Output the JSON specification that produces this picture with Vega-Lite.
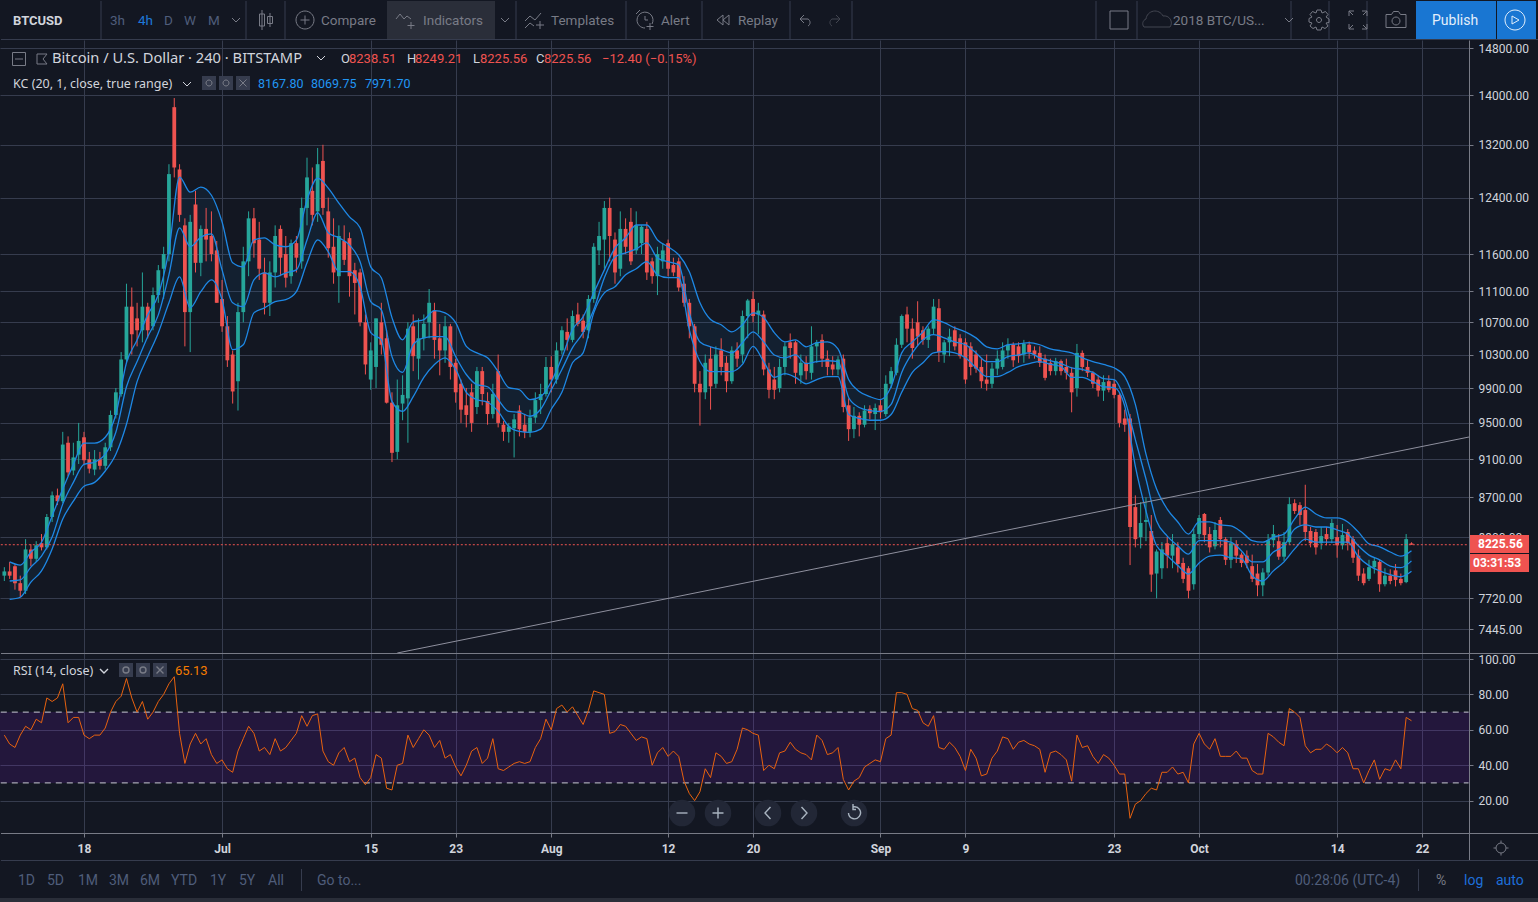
{
"$schema":"https://vega.github.io/schema/vega-lite/v6.json",
"padding":{"left":-2,"top":0,"right":0,"bottom":0},"background":"#131722","bounds":"flush","spacing":0,
"config":{"view":{"stroke":null},"font":"Roboto"},
"resolve":{"scale":{"color":"independent","shape":"independent"}},
"datasets":{
"candles":[
{"t":"2018-06-10 12:00","o":7930,"h":8010,"l":7880,"c":7970,"r":57},
{"t":"2018-06-11 00:00","o":7970,"h":8060,"l":7900,"c":7930,"r":52},
{"t":"2018-06-11 12:00","o":8020,"h":8040,"l":7800,"c":7860,"r":50},
{"t":"2018-06-12 00:00","o":7860,"h":7930,"l":7730,"c":7790,"r":57},
{"t":"2018-06-12 12:00","o":7790,"h":8280,"l":7760,"c":8180,"r":62},
{"t":"2018-06-13 00:00","o":8180,"h":8230,"l":8020,"c":8090,"r":60},
{"t":"2018-06-13 12:00","o":8090,"h":8260,"l":8060,"c":8220,"r":66},
{"t":"2018-06-14 00:00","o":8240,"h":8330,"l":8170,"c":8200,"r":64},
{"t":"2018-06-14 12:00","o":8200,"h":8530,"l":8180,"c":8500,"r":78},
{"t":"2018-06-15 00:00","o":8500,"h":8760,"l":8450,"c":8720,"r":76},
{"t":"2018-06-15 12:00","o":8720,"h":8790,"l":8620,"c":8660,"r":78},
{"t":"2018-06-16 00:00","o":8660,"h":9400,"l":8640,"c":9260,"r":86},
{"t":"2018-06-16 12:00","o":9280,"h":9350,"l":8920,"c":8960,"r":64},
{"t":"2018-06-17 00:00","o":8980,"h":9280,"l":8930,"c":9120,"r":67},
{"t":"2018-06-17 12:00","o":9150,"h":9500,"l":9050,"c":9300,"r":67},
{"t":"2018-06-18 00:00","o":9340,"h":9400,"l":9040,"c":9090,"r":57},
{"t":"2018-06-18 12:00","o":9100,"h":9180,"l":8950,"c":9000,"r":55},
{"t":"2018-06-19 00:00","o":8990,"h":9200,"l":8930,"c":9100,"r":57},
{"t":"2018-06-19 12:00","o":9100,"h":9180,"l":8990,"c":9030,"r":57},
{"t":"2018-06-20 00:00","o":9030,"h":9280,"l":8990,"c":9230,"r":61},
{"t":"2018-06-20 12:00","o":9230,"h":9640,"l":9190,"c":9590,"r":70},
{"t":"2018-06-21 00:00","o":9590,"h":9900,"l":9550,"c":9850,"r":76},
{"t":"2018-06-21 12:00","o":9830,"h":10330,"l":9800,"c":10240,"r":79},
{"t":"2018-06-22 00:00","o":10240,"h":11200,"l":10200,"c":10900,"r":89},
{"t":"2018-06-22 12:00","o":10900,"h":11150,"l":10300,"c":10550,"r":78},
{"t":"2018-06-23 00:00","o":10750,"h":10950,"l":10400,"c":10600,"r":70},
{"t":"2018-06-23 12:00","o":10600,"h":11350,"l":10450,"c":10900,"r":76},
{"t":"2018-06-24 00:00","o":10900,"h":10950,"l":10500,"c":10600,"r":66},
{"t":"2018-06-24 12:00","o":10650,"h":11150,"l":10600,"c":11050,"r":70},
{"t":"2018-06-25 00:00","o":11050,"h":11450,"l":10950,"c":11380,"r":76},
{"t":"2018-06-25 12:00","o":11400,"h":11700,"l":11000,"c":11600,"r":80},
{"t":"2018-06-26 00:00","o":11600,"h":12900,"l":11500,"c":12750,"r":86},
{"t":"2018-06-26 12:00","o":13800,"h":13950,"l":12700,"c":12850,"r":90},
{"t":"2018-06-27 00:00","o":12820,"h":12900,"l":12050,"c":12150,"r":58},
{"t":"2018-06-27 12:00","o":12000,"h":12100,"l":10400,"c":10830,"r":41},
{"t":"2018-06-28 00:00","o":10830,"h":12150,"l":10330,"c":12050,"r":52},
{"t":"2018-06-28 12:00","o":12300,"h":12500,"l":11350,"c":11480,"r":58},
{"t":"2018-06-29 00:00","o":11480,"h":12000,"l":11300,"c":11950,"r":52},
{"t":"2018-06-29 12:00","o":11950,"h":12250,"l":11500,"c":11800,"r":55},
{"t":"2018-06-30 00:00","o":11850,"h":12200,"l":11500,"c":11600,"r":46},
{"t":"2018-06-30 12:00","o":11650,"h":11780,"l":10950,"c":10950,"r":41},
{"t":"2018-07-01 00:00","o":11000,"h":11250,"l":10580,"c":10650,"r":43},
{"t":"2018-07-01 12:00","o":10650,"h":10780,"l":10150,"c":10230,"r":38},
{"t":"2018-07-02 00:00","o":10300,"h":10350,"l":9720,"c":9860,"r":36},
{"t":"2018-07-02 12:00","o":9980,"h":10950,"l":9640,"c":10830,"r":48},
{"t":"2018-07-03 00:00","o":10830,"h":11700,"l":10700,"c":11500,"r":55},
{"t":"2018-07-03 12:00","o":11500,"h":12200,"l":11300,"c":12100,"r":62},
{"t":"2018-07-04 00:00","o":12100,"h":12250,"l":11550,"c":11750,"r":58},
{"t":"2018-07-04 12:00","o":11800,"h":12050,"l":11250,"c":11400,"r":48},
{"t":"2018-07-05 00:00","o":11350,"h":11550,"l":10800,"c":10950,"r":50},
{"t":"2018-07-05 12:00","o":10950,"h":11500,"l":10780,"c":11350,"r":46},
{"t":"2018-07-06 00:00","o":11350,"h":12000,"l":11150,"c":11850,"r":55},
{"t":"2018-07-06 12:00","o":11950,"h":12000,"l":11300,"c":11550,"r":48},
{"t":"2018-07-07 00:00","o":11600,"h":11850,"l":11150,"c":11280,"r":50},
{"t":"2018-07-07 12:00","o":11300,"h":11800,"l":11200,"c":11750,"r":54},
{"t":"2018-07-08 00:00","o":11750,"h":11850,"l":11350,"c":11550,"r":58},
{"t":"2018-07-08 12:00","o":11500,"h":12400,"l":11400,"c":12250,"r":68},
{"t":"2018-07-09 00:00","o":12250,"h":13000,"l":12000,"c":12700,"r":62},
{"t":"2018-07-09 12:00","o":12500,"h":12850,"l":12000,"c":12150,"r":68},
{"t":"2018-07-10 00:00","o":12200,"h":13150,"l":12050,"c":12900,"r":69},
{"t":"2018-07-10 12:00","o":12950,"h":13200,"l":12150,"c":12250,"r":48},
{"t":"2018-07-11 00:00","o":12200,"h":12400,"l":11550,"c":11680,"r":42},
{"t":"2018-07-11 12:00","o":11700,"h":12100,"l":11200,"c":11350,"r":40},
{"t":"2018-07-12 00:00","o":11300,"h":12000,"l":10950,"c":11850,"r":47},
{"t":"2018-07-12 12:00","o":11780,"h":12000,"l":11450,"c":11520,"r":50},
{"t":"2018-07-13 00:00","o":11820,"h":11900,"l":11030,"c":11300,"r":42},
{"t":"2018-07-13 12:00","o":11380,"h":11480,"l":10800,"c":11210,"r":44},
{"t":"2018-07-14 00:00","o":11350,"h":11400,"l":10650,"c":10700,"r":33},
{"t":"2018-07-14 12:00","o":10700,"h":10800,"l":10060,"c":10180,"r":29},
{"t":"2018-07-15 00:00","o":10000,"h":10450,"l":9880,"c":10350,"r":33},
{"t":"2018-07-15 12:00","o":10150,"h":10750,"l":9900,"c":10750,"r":46},
{"t":"2018-07-16 00:00","o":10700,"h":10950,"l":10300,"c":10420,"r":44},
{"t":"2018-07-16 12:00","o":10500,"h":10600,"l":9720,"c":9730,"r":27},
{"t":"2018-07-17 00:00","o":9730,"h":9850,"l":9070,"c":9170,"r":26},
{"t":"2018-07-17 12:00","o":9180,"h":10000,"l":9100,"c":9700,"r":40},
{"t":"2018-07-18 00:00","o":9720,"h":10050,"l":9530,"c":9820,"r":41},
{"t":"2018-07-18 12:00","o":9780,"h":10700,"l":9280,"c":10620,"r":57},
{"t":"2018-07-19 00:00","o":10650,"h":10800,"l":10100,"c":10280,"r":50},
{"t":"2018-07-19 12:00","o":10250,"h":10750,"l":10000,"c":10500,"r":55},
{"t":"2018-07-20 00:00","o":10500,"h":10800,"l":10350,"c":10680,"r":60},
{"t":"2018-07-20 12:00","o":10700,"h":11130,"l":10500,"c":10950,"r":57},
{"t":"2018-07-21 00:00","o":10850,"h":10950,"l":10250,"c":10480,"r":50},
{"t":"2018-07-21 12:00","o":10500,"h":10680,"l":10050,"c":10350,"r":54},
{"t":"2018-07-22 00:00","o":10350,"h":10780,"l":10200,"c":10650,"r":44},
{"t":"2018-07-22 12:00","o":10650,"h":10680,"l":10000,"c":10150,"r":46},
{"t":"2018-07-23 00:00","o":10200,"h":10250,"l":9730,"c":9850,"r":39},
{"t":"2018-07-23 12:00","o":9950,"h":10000,"l":9500,"c":9650,"r":34},
{"t":"2018-07-24 00:00","o":9700,"h":9900,"l":9450,"c":9590,"r":40},
{"t":"2018-07-24 12:00","o":9850,"h":9950,"l":9400,"c":9500,"r":48},
{"t":"2018-07-25 00:00","o":9680,"h":10150,"l":9600,"c":10100,"r":50},
{"t":"2018-07-25 12:00","o":10100,"h":10150,"l":9700,"c":9830,"r":41},
{"t":"2018-07-26 00:00","o":9750,"h":9850,"l":9480,"c":9600,"r":44},
{"t":"2018-07-26 12:00","o":9600,"h":9950,"l":9550,"c":9830,"r":55},
{"t":"2018-07-27 00:00","o":10100,"h":10300,"l":9450,"c":9500,"r":38},
{"t":"2018-07-27 12:00","o":9480,"h":9520,"l":9300,"c":9400,"r":37},
{"t":"2018-07-28 00:00","o":9400,"h":9500,"l":9280,"c":9460,"r":39},
{"t":"2018-07-28 12:00","o":9440,"h":9600,"l":9120,"c":9540,"r":41},
{"t":"2018-07-29 00:00","o":9640,"h":9700,"l":9350,"c":9430,"r":42},
{"t":"2018-07-29 12:00","o":9480,"h":9600,"l":9330,"c":9400,"r":41},
{"t":"2018-07-30 00:00","o":9400,"h":9650,"l":9340,"c":9560,"r":42},
{"t":"2018-07-30 12:00","o":9560,"h":9850,"l":9500,"c":9760,"r":50},
{"t":"2018-07-31 00:00","o":9760,"h":9950,"l":9600,"c":9830,"r":55},
{"t":"2018-07-31 12:00","o":9830,"h":10270,"l":9800,"c":10150,"r":66},
{"t":"2018-08-01 00:00","o":10150,"h":10280,"l":9850,"c":10000,"r":60},
{"t":"2018-08-01 12:00","o":10000,"h":10450,"l":9950,"c":10350,"r":72},
{"t":"2018-08-02 00:00","o":10350,"h":10650,"l":10300,"c":10600,"r":74},
{"t":"2018-08-02 12:00","o":10580,"h":10750,"l":10350,"c":10480,"r":70},
{"t":"2018-08-03 00:00","o":10480,"h":10850,"l":10450,"c":10780,"r":73},
{"t":"2018-08-03 12:00","o":10800,"h":10950,"l":10650,"c":10680,"r":68},
{"t":"2018-08-04 00:00","o":10720,"h":10800,"l":10500,"c":10580,"r":63},
{"t":"2018-08-04 12:00","o":10600,"h":11050,"l":10500,"c":11000,"r":71},
{"t":"2018-08-05 00:00","o":11000,"h":11750,"l":10950,"c":11700,"r":82},
{"t":"2018-08-05 12:00","o":11650,"h":12050,"l":11450,"c":11850,"r":81},
{"t":"2018-08-06 00:00","o":11800,"h":12350,"l":11400,"c":12250,"r":80},
{"t":"2018-08-06 12:00","o":12250,"h":12400,"l":11500,"c":11850,"r":58},
{"t":"2018-08-07 00:00","o":11800,"h":11900,"l":11200,"c":11350,"r":59},
{"t":"2018-08-07 12:00","o":11400,"h":12200,"l":11300,"c":11950,"r":63},
{"t":"2018-08-08 00:00","o":11950,"h":12100,"l":11600,"c":11700,"r":62},
{"t":"2018-08-08 12:00","o":12050,"h":12250,"l":11450,"c":11500,"r":58},
{"t":"2018-08-09 00:00","o":11650,"h":12200,"l":11600,"c":12000,"r":54},
{"t":"2018-08-09 12:00","o":11750,"h":12000,"l":11600,"c":11980,"r":56},
{"t":"2018-08-10 00:00","o":11950,"h":12050,"l":11250,"c":11350,"r":55},
{"t":"2018-08-10 12:00","o":11500,"h":11550,"l":11200,"c":11300,"r":40},
{"t":"2018-08-11 00:00","o":11300,"h":11700,"l":11050,"c":11600,"r":47},
{"t":"2018-08-11 12:00","o":11500,"h":11750,"l":11400,"c":11650,"r":50},
{"t":"2018-08-12 00:00","o":11750,"h":11800,"l":11300,"c":11400,"r":45},
{"t":"2018-08-12 12:00","o":11450,"h":11550,"l":11300,"c":11350,"r":48},
{"t":"2018-08-13 00:00","o":11500,"h":11550,"l":11100,"c":11150,"r":45},
{"t":"2018-08-13 12:00","o":11200,"h":11300,"l":10900,"c":10950,"r":31},
{"t":"2018-08-14 00:00","o":10950,"h":11000,"l":10500,"c":10650,"r":24},
{"t":"2018-08-14 12:00","o":10650,"h":10680,"l":9850,"c":9950,"r":20},
{"t":"2018-08-15 00:00","o":9950,"h":10100,"l":9470,"c":9850,"r":25},
{"t":"2018-08-15 12:00","o":9850,"h":10300,"l":9770,"c":10200,"r":38},
{"t":"2018-08-16 00:00","o":10250,"h":10400,"l":9650,"c":9920,"r":33},
{"t":"2018-08-16 12:00","o":9950,"h":10400,"l":9900,"c":10300,"r":47},
{"t":"2018-08-17 00:00","o":10350,"h":10500,"l":10050,"c":10150,"r":45},
{"t":"2018-08-17 12:00","o":10200,"h":10280,"l":9850,"c":9980,"r":41},
{"t":"2018-08-18 00:00","o":9980,"h":10400,"l":9950,"c":10350,"r":42},
{"t":"2018-08-18 12:00","o":10350,"h":10450,"l":10150,"c":10250,"r":49},
{"t":"2018-08-19 00:00","o":10300,"h":10850,"l":10200,"c":10780,"r":61},
{"t":"2018-08-19 12:00","o":10780,"h":11000,"l":10500,"c":10980,"r":60},
{"t":"2018-08-20 00:00","o":11000,"h":11100,"l":10700,"c":10780,"r":58},
{"t":"2018-08-20 12:00","o":10800,"h":10950,"l":10550,"c":10850,"r":57},
{"t":"2018-08-21 00:00","o":10800,"h":10850,"l":10050,"c":10120,"r":37},
{"t":"2018-08-21 12:00","o":10120,"h":10200,"l":9780,"c":9880,"r":40},
{"t":"2018-08-22 00:00","o":10000,"h":10150,"l":9770,"c":9880,"r":38},
{"t":"2018-08-22 12:00","o":9900,"h":10250,"l":9850,"c":10150,"r":47},
{"t":"2018-08-23 00:00","o":10150,"h":10450,"l":10050,"c":10400,"r":48},
{"t":"2018-08-23 12:00","o":10450,"h":10560,"l":10250,"c":10380,"r":53},
{"t":"2018-08-24 00:00","o":10450,"h":10470,"l":9950,"c":10080,"r":49},
{"t":"2018-08-24 12:00","o":10050,"h":10300,"l":9950,"c":10200,"r":47},
{"t":"2018-08-25 00:00","o":10200,"h":10280,"l":10000,"c":10100,"r":46},
{"t":"2018-08-25 12:00","o":10080,"h":10650,"l":10000,"c":10400,"r":43},
{"t":"2018-08-26 00:00","o":10400,"h":10480,"l":10200,"c":10450,"r":57},
{"t":"2018-08-26 12:00","o":10480,"h":10550,"l":10150,"c":10250,"r":54},
{"t":"2018-08-27 00:00","o":10250,"h":10350,"l":10050,"c":10150,"r":46},
{"t":"2018-08-27 12:00","o":10180,"h":10280,"l":10050,"c":10120,"r":47},
{"t":"2018-08-28 00:00","o":10120,"h":10280,"l":10050,"c":10240,"r":50},
{"t":"2018-08-28 12:00","o":10250,"h":10300,"l":9620,"c":9680,"r":32},
{"t":"2018-08-29 00:00","o":9700,"h":9780,"l":9300,"c":9430,"r":26},
{"t":"2018-08-29 12:00","o":9430,"h":9680,"l":9330,"c":9580,"r":31},
{"t":"2018-08-30 00:00","o":9580,"h":9620,"l":9350,"c":9480,"r":33},
{"t":"2018-08-30 12:00","o":9480,"h":9700,"l":9450,"c":9640,"r":39},
{"t":"2018-08-31 00:00","o":9660,"h":9700,"l":9540,"c":9610,"r":41},
{"t":"2018-08-31 12:00","o":9600,"h":9720,"l":9420,"c":9670,"r":43},
{"t":"2018-09-01 00:00","o":9700,"h":9760,"l":9550,"c":9620,"r":42},
{"t":"2018-09-01 12:00","o":9600,"h":10050,"l":9570,"c":9950,"r":55},
{"t":"2018-09-02 00:00","o":9950,"h":10150,"l":9900,"c":10100,"r":57},
{"t":"2018-09-02 12:00","o":10080,"h":10500,"l":10050,"c":10420,"r":81},
{"t":"2018-09-03 00:00","o":10420,"h":10800,"l":10380,"c":10780,"r":81},
{"t":"2018-09-03 12:00","o":10800,"h":10900,"l":10450,"c":10620,"r":80},
{"t":"2018-09-04 00:00","o":10620,"h":10750,"l":10250,"c":10380,"r":72},
{"t":"2018-09-04 12:00","o":10700,"h":10970,"l":10400,"c":10520,"r":71},
{"t":"2018-09-05 00:00","o":10600,"h":10650,"l":10420,"c":10480,"r":64},
{"t":"2018-09-05 12:00","o":10480,"h":10650,"l":10380,"c":10620,"r":62},
{"t":"2018-09-06 00:00","o":10620,"h":11000,"l":10550,"c":10900,"r":68},
{"t":"2018-09-06 12:00","o":10880,"h":11000,"l":10210,"c":10330,"r":50},
{"t":"2018-09-07 00:00","o":10300,"h":10480,"l":10200,"c":10450,"r":49},
{"t":"2018-09-07 12:00","o":10450,"h":10620,"l":10280,"c":10520,"r":53},
{"t":"2018-09-08 00:00","o":10600,"h":10650,"l":10350,"c":10400,"r":50},
{"t":"2018-09-08 12:00","o":10500,"h":10550,"l":10250,"c":10280,"r":45},
{"t":"2018-09-09 00:00","o":10450,"h":10500,"l":9950,"c":10000,"r":37},
{"t":"2018-09-09 12:00","o":10400,"h":10450,"l":10050,"c":10150,"r":49},
{"t":"2018-09-10 00:00","o":10300,"h":10350,"l":10080,"c":10130,"r":44},
{"t":"2018-09-10 12:00","o":10150,"h":10250,"l":9900,"c":9980,"r":34},
{"t":"2018-09-11 00:00","o":10000,"h":10300,"l":9870,"c":9950,"r":35},
{"t":"2018-09-11 12:00","o":9950,"h":10200,"l":9900,"c":10130,"r":44},
{"t":"2018-09-12 00:00","o":10130,"h":10350,"l":10050,"c":10250,"r":48},
{"t":"2018-09-12 12:00","o":10150,"h":10450,"l":10120,"c":10350,"r":56},
{"t":"2018-09-13 00:00","o":10350,"h":10500,"l":10250,"c":10420,"r":55},
{"t":"2018-09-13 12:00","o":10420,"h":10450,"l":10150,"c":10230,"r":49},
{"t":"2018-09-14 00:00","o":10400,"h":10450,"l":10200,"c":10280,"r":53},
{"t":"2018-09-14 12:00","o":10300,"h":10480,"l":10200,"c":10430,"r":54},
{"t":"2018-09-15 00:00","o":10420,"h":10460,"l":10250,"c":10330,"r":52},
{"t":"2018-09-15 12:00","o":10350,"h":10400,"l":10250,"c":10300,"r":51},
{"t":"2018-09-16 00:00","o":10320,"h":10400,"l":10150,"c":10200,"r":49},
{"t":"2018-09-16 12:00","o":10250,"h":10300,"l":9990,"c":10020,"r":36},
{"t":"2018-09-17 00:00","o":10200,"h":10250,"l":10050,"c":10100,"r":47},
{"t":"2018-09-17 12:00","o":10100,"h":10260,"l":10050,"c":10220,"r":48},
{"t":"2018-09-18 00:00","o":10220,"h":10240,"l":10050,"c":10100,"r":46},
{"t":"2018-09-18 12:00","o":10150,"h":10250,"l":10000,"c":10080,"r":43},
{"t":"2018-09-19 00:00","o":10080,"h":10150,"l":9620,"c":9850,"r":31},
{"t":"2018-09-19 12:00","o":9900,"h":10430,"l":9800,"c":10320,"r":57},
{"t":"2018-09-20 00:00","o":10320,"h":10350,"l":10100,"c":10150,"r":50},
{"t":"2018-09-20 12:00","o":10150,"h":10230,"l":10030,"c":10080,"r":51},
{"t":"2018-09-21 00:00","o":10080,"h":10100,"l":9900,"c":9950,"r":45},
{"t":"2018-09-21 12:00","o":10000,"h":10050,"l":9800,"c":9870,"r":41},
{"t":"2018-09-22 00:00","o":9870,"h":10050,"l":9750,"c":9970,"r":46},
{"t":"2018-09-22 12:00","o":9980,"h":10050,"l":9850,"c":9880,"r":44},
{"t":"2018-09-23 00:00","o":9950,"h":10000,"l":9780,"c":9820,"r":40},
{"t":"2018-09-23 12:00","o":9820,"h":9850,"l":9450,"c":9500,"r":35},
{"t":"2018-09-24 00:00","o":9550,"h":9650,"l":9400,"c":9480,"r":35},
{"t":"2018-09-24 12:00","o":9550,"h":9600,"l":8030,"c":8400,"r":10},
{"t":"2018-09-25 00:00","o":8600,"h":8720,"l":8200,"c":8280,"r":18},
{"t":"2018-09-25 12:00","o":8300,"h":8650,"l":8190,"c":8440,"r":20},
{"t":"2018-09-26 00:00","o":8450,"h":8700,"l":8260,"c":8470,"r":24},
{"t":"2018-09-26 12:00","o":8360,"h":8520,"l":7780,"c":7940,"r":27},
{"t":"2018-09-27 00:00","o":7950,"h":8180,"l":7720,"c":8160,"r":26},
{"t":"2018-09-27 12:00","o":8000,"h":8250,"l":7900,"c":8180,"r":36},
{"t":"2018-09-28 00:00","o":8240,"h":8300,"l":8000,"c":8120,"r":36},
{"t":"2018-09-28 12:00","o":8120,"h":8330,"l":8000,"c":8230,"r":39},
{"t":"2018-09-29 00:00","o":8200,"h":8250,"l":7960,"c":8040,"r":35},
{"t":"2018-09-29 12:00","o":8050,"h":8100,"l":7860,"c":7900,"r":36},
{"t":"2018-09-30 00:00","o":8000,"h":8020,"l":7720,"c":7790,"r":30},
{"t":"2018-09-30 12:00","o":7850,"h":8380,"l":7800,"c":8330,"r":52},
{"t":"2018-10-01 00:00","o":8330,"h":8520,"l":8280,"c":8490,"r":58},
{"t":"2018-10-01 12:00","o":8530,"h":8540,"l":8250,"c":8320,"r":52},
{"t":"2018-10-02 00:00","o":8330,"h":8400,"l":8150,"c":8200,"r":49},
{"t":"2018-10-02 12:00","o":8210,"h":8450,"l":8180,"c":8370,"r":55},
{"t":"2018-10-03 00:00","o":8470,"h":8500,"l":8200,"c":8280,"r":45},
{"t":"2018-10-03 12:00","o":8280,"h":8300,"l":8030,"c":8080,"r":45},
{"t":"2018-10-04 00:00","o":8080,"h":8300,"l":8000,"c":8240,"r":45},
{"t":"2018-10-04 12:00","o":8230,"h":8270,"l":8050,"c":8120,"r":48},
{"t":"2018-10-05 00:00","o":8130,"h":8150,"l":8010,"c":8050,"r":44},
{"t":"2018-10-05 12:00","o":8120,"h":8170,"l":8000,"c":8050,"r":44},
{"t":"2018-10-06 00:00","o":8020,"h":8130,"l":7870,"c":7900,"r":37},
{"t":"2018-10-06 12:00","o":7950,"h":8040,"l":7740,"c":7840,"r":35},
{"t":"2018-10-07 00:00","o":7840,"h":8000,"l":7740,"c":7960,"r":35},
{"t":"2018-10-07 12:00","o":7960,"h":8330,"l":7930,"c":8270,"r":58},
{"t":"2018-10-08 00:00","o":8270,"h":8420,"l":8200,"c":8330,"r":56},
{"t":"2018-10-08 12:00","o":8260,"h":8330,"l":8080,"c":8110,"r":53},
{"t":"2018-10-09 00:00","o":8110,"h":8350,"l":8070,"c":8250,"r":51},
{"t":"2018-10-09 12:00","o":8250,"h":8700,"l":8230,"c":8630,"r":72},
{"t":"2018-10-10 00:00","o":8640,"h":8680,"l":8530,"c":8560,"r":70},
{"t":"2018-10-10 12:00","o":8620,"h":8650,"l":8420,"c":8520,"r":67},
{"t":"2018-10-11 00:00","o":8570,"h":8830,"l":8260,"c":8350,"r":51},
{"t":"2018-10-11 12:00","o":8360,"h":8400,"l":8200,"c":8240,"r":47},
{"t":"2018-10-12 00:00","o":8350,"h":8380,"l":8130,"c":8200,"r":49},
{"t":"2018-10-12 12:00","o":8240,"h":8400,"l":8180,"c":8310,"r":49},
{"t":"2018-10-13 00:00","o":8330,"h":8400,"l":8220,"c":8280,"r":52},
{"t":"2018-10-13 12:00","o":8280,"h":8480,"l":8240,"c":8440,"r":50},
{"t":"2018-10-14 00:00","o":8300,"h":8420,"l":8100,"c":8220,"r":47},
{"t":"2018-10-14 12:00","o":8220,"h":8430,"l":8180,"c":8320,"r":50},
{"t":"2018-10-15 00:00","o":8350,"h":8380,"l":8170,"c":8240,"r":47},
{"t":"2018-10-15 12:00","o":8280,"h":8310,"l":8050,"c":8100,"r":38},
{"t":"2018-10-16 00:00","o":8120,"h":8180,"l":7880,"c":7930,"r":38},
{"t":"2018-10-16 12:00","o":7950,"h":8000,"l":7840,"c":7860,"r":30},
{"t":"2018-10-17 00:00","o":7900,"h":8080,"l":7880,"c":8010,"r":37},
{"t":"2018-10-17 12:00","o":8010,"h":8100,"l":7950,"c":8070,"r":43},
{"t":"2018-10-18 00:00","o":8060,"h":8080,"l":7780,"c":7850,"r":32},
{"t":"2018-10-18 12:00","o":7850,"h":8000,"l":7830,"c":7930,"r":38},
{"t":"2018-10-19 00:00","o":7930,"h":7990,"l":7850,"c":7880,"r":37},
{"t":"2018-10-19 12:00","o":7980,"h":8040,"l":7830,"c":7890,"r":43},
{"t":"2018-10-20 00:00","o":7900,"h":7950,"l":7840,"c":7860,"r":38},
{"t":"2018-10-20 12:00","o":7870,"h":8330,"l":7860,"c":8280,"r":67},
{"t":"2018-10-21 00:00","o":8238.51,"h":8249.21,"l":8225.56,"c":8225.56,"r":65.13}
],
"kc":[
{"t":"2018-06-11 00:00","u":8060,"m":7880,"d":7710},
{"t":"2018-06-12 00:00","u":8030,"m":7890,"d":7730},
{"t":"2018-06-13 00:00","u":8155,"m":8010,"d":7870},
{"t":"2018-06-14 00:00","u":8250,"m":8115,"d":7975},
{"t":"2018-06-15 00:00","u":8510,"m":8300,"d":8185},
{"t":"2018-06-16 00:00","u":8785,"m":8630,"d":8480},
{"t":"2018-06-17 00:00","u":9045,"m":8855,"d":8660},
{"t":"2018-06-18 00:00","u":9275,"m":9045,"d":8815},
{"t":"2018-06-19 00:00","u":9275,"m":9070,"d":8855},
{"t":"2018-06-20 00:00","u":9340,"m":9155,"d":8975},
{"t":"2018-06-21 00:00","u":9595,"m":9395,"d":9155},
{"t":"2018-06-22 00:00","u":10200,"m":9915,"d":9485},
{"t":"2018-06-23 00:00","u":10480,"m":10215,"d":9975},
{"t":"2018-06-24 00:00","u":10795,"m":10520,"d":10275},
{"t":"2018-06-25 00:00","u":11055,"m":10795,"d":10570},
{"t":"2018-06-26 00:00","u":11655,"m":11320,"d":10950},
{"t":"2018-06-27 00:00","u":12705,"m":11965,"d":11290},
{"t":"2018-06-28 00:00","u":12480,"m":11700,"d":10885},
{"t":"2018-06-29 00:00","u":12555,"m":11835,"d":11095},
{"t":"2018-06-30 00:00","u":12435,"m":11880,"d":11250},
{"t":"2018-07-01 00:00","u":12050,"m":11385,"d":10990},
{"t":"2018-07-02 00:00","u":11480,"m":10950,"d":10360},
{"t":"2018-07-03 00:00","u":11425,"m":10900,"d":10420},
{"t":"2018-07-04 00:00","u":11795,"m":11250,"d":10820},
{"t":"2018-07-05 00:00","u":11825,"m":11345,"d":10885},
{"t":"2018-07-06 00:00","u":11725,"m":11290,"d":10965},
{"t":"2018-07-07 00:00","u":11700,"m":11345,"d":10990},
{"t":"2018-07-08 00:00","u":11795,"m":11385,"d":11095},
{"t":"2018-07-09 00:00","u":12365,"m":11795,"d":11480},
{"t":"2018-07-10 00:00","u":12690,"m":12180,"d":11795},
{"t":"2018-07-11 00:00","u":12540,"m":11895,"d":11630},
{"t":"2018-07-12 00:00","u":12320,"m":11825,"d":11360},
{"t":"2018-07-13 00:00","u":12120,"m":11725,"d":11360},
{"t":"2018-07-14 00:00","u":11965,"m":11495,"d":11160},
{"t":"2018-07-15 00:00","u":11425,"m":10965,"d":10570},
{"t":"2018-07-16 00:00","u":11280,"m":10860,"d":10480},
{"t":"2018-07-17 00:00","u":10760,"m":10275,"d":9745},
{"t":"2018-07-18 00:00","u":10480,"m":10085,"d":9630},
{"t":"2018-07-19 00:00","u":10705,"m":10420,"d":9800},
{"t":"2018-07-20 00:00","u":10735,"m":10505,"d":10025},
{"t":"2018-07-21 00:00","u":10850,"m":10520,"d":10180},
{"t":"2018-07-22 00:00","u":10820,"m":10520,"d":10260},
{"t":"2018-07-23 00:00","u":10695,"m":10275,"d":10120},
{"t":"2018-07-24 00:00","u":10400,"m":10060,"d":9850},
{"t":"2018-07-25 00:00","u":10320,"m":9940,"d":9765},
{"t":"2018-07-26 00:00","u":10260,"m":9915,"d":9735},
{"t":"2018-07-27 00:00","u":10095,"m":9765,"d":9630},
{"t":"2018-07-28 00:00","u":9905,"m":9630,"d":9460},
{"t":"2018-07-29 00:00","u":9880,"m":9620,"d":9405},
{"t":"2018-07-30 00:00","u":9765,"m":9575,"d":9395},
{"t":"2018-07-31 00:00","u":9800,"m":9655,"d":9430},
{"t":"2018-08-01 00:00","u":9975,"m":9880,"d":9655},
{"t":"2018-08-02 00:00","u":10260,"m":10120,"d":9850},
{"t":"2018-08-03 00:00","u":10610,"m":10385,"d":10200},
{"t":"2018-08-04 00:00","u":10770,"m":10570,"d":10320},
{"t":"2018-08-05 00:00","u":11080,"m":10860,"d":10820},
{"t":"2018-08-06 00:00","u":11385,"m":11280,"d":11080},
{"t":"2018-08-07 00:00","u":11685,"m":11560,"d":11160},
{"t":"2018-08-08 00:00","u":11825,"m":11615,"d":11320},
{"t":"2018-08-09 00:00","u":12005,"m":11670,"d":11400},
{"t":"2018-08-10 00:00","u":12005,"m":11755,"d":11495},
{"t":"2018-08-11 00:00","u":11795,"m":11545,"d":11320},
{"t":"2018-08-12 00:00","u":11700,"m":11495,"d":11280},
{"t":"2018-08-13 00:00","u":11590,"m":11455,"d":11280},
{"t":"2018-08-14 00:00","u":11360,"m":10820,"d":10605},
{"t":"2018-08-15 00:00","u":10950,"m":10455,"d":10215},
{"t":"2018-08-16 00:00","u":10735,"m":10395,"d":10095},
{"t":"2018-08-17 00:00","u":10670,"m":10360,"d":10095},
{"t":"2018-08-18 00:00","u":10580,"m":10320,"d":10095},
{"t":"2018-08-19 00:00","u":10670,"m":10445,"d":10180},
{"t":"2018-08-20 00:00","u":10820,"m":10580,"d":10400},
{"t":"2018-08-21 00:00","u":10760,"m":10455,"d":10215},
{"t":"2018-08-22 00:00","u":10570,"m":10295,"d":10025},
{"t":"2018-08-23 00:00","u":10455,"m":10260,"d":10070},
{"t":"2018-08-24 00:00","u":10480,"m":10295,"d":10025},
{"t":"2018-08-25 00:00","u":10395,"m":10190,"d":9950},
{"t":"2018-08-26 00:00","u":10445,"m":10215,"d":10000},
{"t":"2018-08-27 00:00","u":10455,"m":10225,"d":10035},
{"t":"2018-08-28 00:00","u":10370,"m":10215,"d":10035},
{"t":"2018-08-29 00:00","u":10000,"m":9790,"d":9595},
{"t":"2018-08-30 00:00","u":9860,"m":9675,"d":9550},
{"t":"2018-08-31 00:00","u":9800,"m":9640,"d":9530},
{"t":"2018-09-01 00:00","u":9765,"m":9630,"d":9530},
{"t":"2018-09-02 00:00","u":9915,"m":9710,"d":9595},
{"t":"2018-09-03 00:00","u":10320,"m":10085,"d":9850},
{"t":"2018-09-04 00:00","u":10455,"m":10320,"d":10085},
{"t":"2018-09-05 00:00","u":10580,"m":10480,"d":10200},
{"t":"2018-09-06 00:00","u":10735,"m":10545,"d":10320},
{"t":"2018-09-07 00:00","u":10695,"m":10505,"d":10335},
{"t":"2018-09-08 00:00","u":10630,"m":10455,"d":10320},
{"t":"2018-09-09 00:00","u":10580,"m":10420,"d":10260},
{"t":"2018-09-10 00:00","u":10505,"m":10320,"d":10140},
{"t":"2018-09-11 00:00","u":10395,"m":10215,"d":10035},
{"t":"2018-09-12 00:00","u":10370,"m":10215,"d":10035},
{"t":"2018-09-13 00:00","u":10420,"m":10275,"d":10085},
{"t":"2018-09-14 00:00","u":10430,"m":10295,"d":10155},
{"t":"2018-09-15 00:00","u":10445,"m":10320,"d":10190},
{"t":"2018-09-16 00:00","u":10420,"m":10260,"d":10215},
{"t":"2018-09-17 00:00","u":10370,"m":10225,"d":10180},
{"t":"2018-09-18 00:00","u":10345,"m":10190,"d":10155},
{"t":"2018-09-19 00:00","u":10320,"m":10140,"d":10025},
{"t":"2018-09-20 00:00","u":10260,"m":10120,"d":10025},
{"t":"2018-09-21 00:00","u":10215,"m":10085,"d":9975},
{"t":"2018-09-22 00:00","u":10180,"m":10010,"d":9915},
{"t":"2018-09-23 00:00","u":10140,"m":10000,"d":9905},
{"t":"2018-09-24 00:00","u":10035,"m":9765,"d":9690},
{"t":"2018-09-25 00:00","u":9710,"m":9315,"d":9025},
{"t":"2018-09-26 00:00","u":9155,"m":8890,"d":8560},
{"t":"2018-09-27 00:00","u":8785,"m":8460,"d":8215},
{"t":"2018-09-28 00:00","u":8580,"m":8310,"d":8120},
{"t":"2018-09-29 00:00","u":8450,"m":8215,"d":8025},
{"t":"2018-09-30 00:00","u":8330,"m":8135,"d":7945},
{"t":"2018-10-01 00:00","u":8450,"m":8265,"d":8050},
{"t":"2018-10-02 00:00","u":8450,"m":8265,"d":8115},
{"t":"2018-10-03 00:00","u":8420,"m":8265,"d":8125},
{"t":"2018-10-04 00:00","u":8410,"m":8250,"d":8100},
{"t":"2018-10-05 00:00","u":8350,"m":8165,"d":8090},
{"t":"2018-10-06 00:00","u":8265,"m":8060,"d":7930},
{"t":"2018-10-07 00:00","u":8250,"m":8060,"d":7880},
{"t":"2018-10-08 00:00","u":8300,"m":8155,"d":7975},
{"t":"2018-10-09 00:00","u":8330,"m":8215,"d":8060},
{"t":"2018-10-10 00:00","u":8480,"m":8380,"d":8185},
{"t":"2018-10-11 00:00","u":8600,"m":8420,"d":8280},
{"t":"2018-10-12 00:00","u":8530,"m":8400,"d":8250},
{"t":"2018-10-13 00:00","u":8490,"m":8400,"d":8250},
{"t":"2018-10-14 00:00","u":8490,"m":8370,"d":8250},
{"t":"2018-10-15 00:00","u":8450,"m":8330,"d":8250},
{"t":"2018-10-16 00:00","u":8350,"m":8215,"d":8110},
{"t":"2018-10-17 00:00","u":8235,"m":8125,"d":8025},
{"t":"2018-10-18 00:00","u":8205,"m":8080,"d":7975},
{"t":"2018-10-19 00:00","u":8155,"m":8020,"d":7940},
{"t":"2018-10-20 00:00","u":8115,"m":8005,"d":7920},
{"t":"2018-10-21 00:00","u":8167.8,"m":8069.75,"d":7971.7}
]
},
"vconcat":[
{"width":1538,"height":40,
"encoding":{
"x":{"field":"at","type":"quantitative","scale":{"domain":[0,1538],"nice":false,"zero":false},"axis":null},
"y":{"field":"row","type":"quantitative","scale":{"domain":[40,0],"nice":false,"zero":false},"axis":null},
"color":{"field":"tone","type":"nominal","scale":{"domain":["light","dim","tf","blue","panel","line","brand","white","faint"],"range":["#d1d4dc","#787b86","#4f5d7a","#1e78d8","#2a2e39","#363c4e","#1976d2","#e3effb","#434651"]},"legend":null}},
"layer":[
{"data":{"values":[{"at":387,"to":495,"row":1,"end":39,"tone":"panel"},{"at":1416,"to":1496,"row":1,"end":39,"tone":"brand"},{"at":1497,"to":1536,"row":1,"end":39,"tone":"brand"}]},
"mark":{"type":"rect"},"encoding":{"x2":{"field":"to"},"y2":{"field":"end"}}},
{"data":{"values":[{"at":101,"row":1,"end":39,"tone":"line"},{"at":246,"row":1,"end":39,"tone":"line"},{"at":285,"row":1,"end":39,"tone":"line"},{"at":516,"row":1,"end":39,"tone":"line"},{"at":626,"row":1,"end":39,"tone":"line"},{"at":702,"row":1,"end":39,"tone":"line"},{"at":790,"row":1,"end":39,"tone":"line"},{"at":852,"row":1,"end":39,"tone":"line"},{"at":1096,"row":1,"end":39,"tone":"line"},{"at":1137,"row":1,"end":39,"tone":"line"},{"at":1291,"row":1,"end":39,"tone":"line"},{"at":1329,"row":1,"end":39,"tone":"line"},{"at":1367,"row":1,"end":39,"tone":"line"}]},
"mark":{"type":"rule","strokeWidth":1},"encoding":{"y2":{"field":"end"}}},
{"data":{"values":[{"at":1,"to":1538,"row":39.5,"tone":"line"}]},"mark":{"type":"rule","strokeWidth":1},"encoding":{"x2":{"field":"to"}}},
{"data":{"values":[{"at":13,"row":20.5,"label":"BTCUSD","tone":"light"}]},"mark":{"type":"text","align":"left","baseline":"middle","fontSize":13,"fontWeight":"bold"},"encoding":{"text":{"field":"label"}}},
{"data":{"values":[
{"at":110,"row":20.5,"label":"3h","tone":"tf"},{"at":138,"row":20.5,"label":"4h","tone":"blue"},{"at":164,"row":20.5,"label":"D","tone":"tf"},{"at":184,"row":20.5,"label":"W","tone":"tf"},{"at":208,"row":20.5,"label":"M","tone":"tf"},
{"at":321,"row":20.5,"label":"Compare","tone":"dim"},{"at":423,"row":20.5,"label":"Indicators","tone":"dim"},{"at":551,"row":20.5,"label":"Templates","tone":"dim"},{"at":661,"row":20.5,"label":"Alert","tone":"dim"},{"at":738,"row":20.5,"label":"Replay","tone":"dim"},{"at":1173,"row":20.5,"label":"2018 BTC/US...","tone":"dim"}]},
"mark":{"type":"text","align":"left","baseline":"middle","fontSize":13.5},"encoding":{"text":{"field":"label"}}},
{"data":{"values":[{"at":1432,"row":20.5,"label":"Publish","tone":"white"}]},"mark":{"type":"text","align":"left","baseline":"middle","fontSize":14},"encoding":{"text":{"field":"label"}}},
{"data":{"values":[
{"at":236,"row":20,"icon":"chev","tone":"dim"},{"at":266,"row":20,"icon":"candle","tone":"dim"},{"at":305,"row":20,"icon":"compare","tone":"dim"},{"at":406,"row":20,"icon":"indicators","tone":"dim"},{"at":505,"row":20,"icon":"chev","tone":"dim"},{"at":535,"row":20,"icon":"templates","tone":"dim"},{"at":645,"row":20,"icon":"alert","tone":"dim"},{"at":723,"row":20,"icon":"replay","tone":"dim"},{"at":806,"row":20,"icon":"undo","tone":"dim"},{"at":834,"row":20,"icon":"redo","tone":"faint"},{"at":1119,"row":20,"icon":"square","tone":"dim"},{"at":1157,"row":20,"icon":"cloud","tone":"faint"},{"at":1289,"row":20,"icon":"chev","tone":"dim"},{"at":1319,"row":20,"icon":"gear","tone":"dim"},{"at":1358,"row":20,"icon":"full","tone":"dim"},{"at":1396,"row":20,"icon":"camera","tone":"dim"},{"at":1515,"row":20,"icon":"play","tone":"white"}]},
"mark":{"type":"point","filled":false,"size":400,"opacity":1,"strokeWidth":1},
"encoding":{"shape":{"field":"icon","type":"nominal","legend":null,"scale":{
"domain":["chev","candle","compare","indicators","templates","alert","replay","undo","redo","square","cloud","gear","full","camera","play"],
"range":["M -0.4 -0.2 L 0 0.2 L 0.4 -0.2",
"M -0.4 -1 V 1 M 0.4 -0.7 V 0.7 M -0.65 -0.6 H -0.15 V 0.6 H -0.65 Z M 0.15 -0.35 H 0.65 V 0.35 H 0.15 Z",
"M -0.9 0 A 0.9 0.9 0 1 1 0.9 0 A 0.9 0.9 0 1 1 -0.9 0 M 0 -0.45 V 0.45 M -0.45 0 H 0.45",
"M -1 -0.1 L -0.6 -0.6 L -0.2 -0.1 L 0.1 -0.4 L 0.5 -0.1 M 0.5 0.2 V 0.9 M 0.15 0.55 H 0.85",
"M -1 0.1 L -0.5 -0.4 L 0 0 L 0.6 -0.7 M -1 0.8 L -0.5 0.3 L -0.1 0.6 M 0.5 0.1 V 0.9 M 0.1 0.5 H 0.9",
"M -0.8 0 A 0.8 0.8 0 1 1 0.7 0.4 M -0.8 0 A 0.8 0.8 0 0 0 0 0.8 M 0.5 0.3 V 1 M 0.15 0.65 H 0.85 M -0.9 -0.6 L -0.5 -1 M 0 -0.4 V 0 H 0.3",
"M 0 -0.5 L -0.6 0 L 0 0.5 Z M 0.6 -0.5 L 0 0 L 0.6 0.5 Z",
"M -0.6 -0.1 L -0.2 -0.5 M -0.6 -0.1 L -0.2 0.3 M -0.6 -0.1 H 0.2 A 0.4 0.4 0 0 1 0.2 0.6",
"M 0.6 -0.1 L 0.2 -0.5 M 0.6 -0.1 L 0.2 0.3 M 0.6 -0.1 H -0.2 A 0.4 0.4 0 0 0 -0.2 0.6",
"M -0.9 -0.9 H 0.9 V 0.9 H -0.9 Z",
"M -1.3 0.7 A 0.5 0.5 0 0 1 -1.1 -0.1 A 0.9 0.9 0 0 1 0.6 -0.4 A 0.7 0.7 0 0 1 1.3 0.7 Z",
"M -0.2 -1 H 0.2 L 0.3 -0.7 L 0.65 -0.85 L 0.9 -0.55 L 0.7 -0.3 L 1 -0.1 V 0.25 L 0.7 0.3 L 0.9 0.6 L 0.6 0.85 L 0.3 0.7 L 0.2 1 H -0.2 L -0.3 0.7 L -0.6 0.85 L -0.9 0.6 L -0.7 0.3 L -1 0.2 V -0.15 L -0.7 -0.3 L -0.9 -0.55 L -0.65 -0.85 L -0.3 -0.7 Z M -0.25 0 A 0.25 0.25 0 1 1 0.25 0 A 0.25 0.25 0 1 1 -0.25 0",
"M -0.9 -0.4 V -0.9 H -0.4 M 0.4 -0.9 H 0.9 V -0.4 M 0.9 0.4 V 0.9 H 0.4 M -0.4 0.9 H -0.9 V 0.4 M -0.9 -0.9 L -0.5 -0.5 M 0.9 -0.9 L 0.5 -0.5 M 0.9 0.9 L 0.5 0.5 M -0.9 0.9 L -0.5 0.5",
"M -1 -0.55 H -0.45 L -0.25 -0.85 H 0.25 L 0.45 -0.55 H 1 V 0.75 H -1 Z M -0.4 0.1 A 0.4 0.4 0 1 1 0.4 0.1 A 0.4 0.4 0 1 1 -0.4 0.1",
"M -1 0 A 1 1 0 1 1 1 0 A 1 1 0 1 1 -1 0 M -0.3 -0.4 L 0.4 0 L -0.3 0.4 Z"]}}}}
]},
{"width":1469,"height":613,
"resolve":{"scale":{"x":"independent","y":"independent"}},
"layer":[
{"encoding":{"x":{"field":"t","type":"temporal","title":null,"scale":{"padding":0,"domain":[{"year":2018,"month":6,"date":10,"hours":2,"minutes":11},{"year":2018,"month":10,"date":26,"hours":10}]},
"axis":{"values":[{"year":2018,"month":6,"date":18},{"year":2018,"month":7,"date":1},{"year":2018,"month":7,"date":15},{"year":2018,"month":7,"date":23},{"year":2018,"month":8,"date":1},{"year":2018,"month":8,"date":12},{"year":2018,"month":8,"date":20},{"year":2018,"month":9,"date":1},{"year":2018,"month":9,"date":9},{"year":2018,"month":9,"date":23},{"year":2018,"month":10,"date":1},{"year":2018,"month":10,"date":14},{"year":2018,"month":10,"date":22}],"labels":false,"ticks":false,"domain":false,"grid":true,"gridColor":"#363c4e","gridWidth":1,"title":null}}},
"layer":[
{"data":{"name":"kc"},"mark":{"type":"area","interpolate":"monotone","color":"#2196f3","opacity":0.07},
"encoding":{"y":{"field":"u","type":"quantitative","title":null,"scale":{"type":"log","domain":[7237,14941],"nice":false,"zero":false},
"axis":{"orient":"right","values":[14800,14000,13200,12400,11600,11100,10700,10300,9900,9500,9100,8700,8300,7720,7445],"format":".2f","grid":true,"gridColor":"#363c4e","domain":true,"domainColor":"#787b86","ticks":true,"tickColor":"#787b86","tickSize":4,"labelColor":"#d1d4dc","labelFont":"Roboto","labelFontSize":12,"labelPadding":5,"title":null}},"y2":{"field":"d"}}},
{"data":{"name":"candles"},"mark":{"type":"rule","strokeWidth":1},
"encoding":{"y":{"field":"l","type":"quantitative","title":null,"scale":{"type":"log","domain":[7237,14941],"nice":false,"zero":false}},"y2":{"field":"h"},
"color":{"condition":{"test":"datum.c>=datum.o","value":"#26a69a"},"value":"#ef5350"}}},
{"data":{"name":"candles"},"mark":{"type":"bar","size":3.8},
"encoding":{"y":{"field":"o","type":"quantitative","title":null,"scale":{"type":"log","domain":[7237,14941],"nice":false,"zero":false}},"y2":{"field":"c"},
"color":{"condition":{"test":"datum.c>=datum.o","value":"#26a69a"},"value":"#ef5350"}}},
{"data":{"name":"kc"},"mark":{"type":"line","interpolate":"monotone","color":"#1e88e5","strokeWidth":1.3},
"encoding":{"y":{"field":"u","type":"quantitative","title":null,"scale":{"type":"log","domain":[7237,14941],"nice":false,"zero":false}}}},
{"data":{"name":"kc"},"mark":{"type":"line","interpolate":"monotone","color":"#1e88e5","strokeWidth":1.3},
"encoding":{"y":{"field":"m","type":"quantitative","title":null,"scale":{"type":"log","domain":[7237,14941],"nice":false,"zero":false}}}},
{"data":{"name":"kc"},"mark":{"type":"line","interpolate":"monotone","color":"#1e88e5","strokeWidth":1.3},
"encoding":{"y":{"field":"d","type":"quantitative","title":null,"scale":{"type":"log","domain":[7237,14941],"nice":false,"zero":false}}}},
{"data":{"values":[{"t":"2018-07-17 12:00","price":7237},{"t":"2018-10-26 10:00","price":9343}]},"mark":{"type":"line","color":"#8f909e","strokeWidth":1},
"encoding":{"y":{"field":"price","type":"quantitative","title":null,"scale":{"type":"log","domain":[7237,14941],"nice":false,"zero":false}}}},
{"data":{"values":[{"t":"2018-06-10 04:00","price":8225.56},{"t":"2018-10-26 09:00","price":8225.56}]},"mark":{"type":"line","color":"#ef5350","strokeWidth":1,"strokeDash":[2,2]},
"encoding":{"y":{"field":"price","type":"quantitative","title":null,"scale":{"type":"log","domain":[7237,14941],"nice":false,"zero":false}}}}
]},
{"encoding":{
"x":{"field":"at","type":"quantitative","scale":{"domain":[0,1469],"nice":false,"zero":false},"axis":null},
"y":{"field":"row","type":"quantitative","scale":{"domain":[653,40],"nice":false,"zero":false},"axis":null},
"color":{"field":"tone","type":"nominal","scale":{"domain":["light","dim","blue","red","white","box"],"range":["#d1d4dc","#787b86","#2196f3","#ef5350","#ffffff","#363c4e"]},"legend":null}},
"layer":[
{"data":{"values":[{"at":1470,"to":1529,"row":535,"end":553,"tone":"red"},{"at":1470,"to":1529,"row":554,"end":572,"tone":"red"}]},"mark":{"type":"rect"},"encoding":{"x2":{"field":"to"},"y2":{"field":"end"}}},
{"data":{"values":[{"at":1478,"row":544,"label":"8225.56","tone":"white"},{"at":1473,"row":563,"label":"03:31:53","tone":"white"}]},"mark":{"type":"text","align":"left","baseline":"middle","fontSize":12,"fontWeight":"bold"},"encoding":{"text":{"field":"label"}}},
{"data":{"values":[{"at":52,"row":58.5,"label":"Bitcoin / U.S. Dollar · 240 · BITSTAMP","tone":"light"}]},"mark":{"type":"text","align":"left","baseline":"middle","font":"Noto Sans","fontSize":14.7},"encoding":{"text":{"field":"label"}}},
{"data":{"values":[
{"at":341,"row":59,"label":"O","tone":"light"},{"at":349,"row":59,"label":"8238.51","tone":"red"},{"at":407,"row":59,"label":"H","tone":"light"},{"at":415,"row":59,"label":"8249.21","tone":"red"},{"at":473,"row":59,"label":"L","tone":"light"},{"at":480,"row":59,"label":"8225.56","tone":"red"},{"at":536,"row":59,"label":"C","tone":"light"},{"at":544,"row":59,"label":"8225.56","tone":"red"},{"at":602,"row":59,"label":"−12.40 (−0.15%)","tone":"red"}]},
"mark":{"type":"text","align":"left","baseline":"middle","fontSize":13},"encoding":{"text":{"field":"label"}}},
{"data":{"values":[{"at":13,"row":84,"label":"KC (20, 1, close, true range)","tone":"light"}]},"mark":{"type":"text","align":"left","baseline":"middle","font":"Noto Sans","fontSize":12.5},"encoding":{"text":{"field":"label"}}},
{"data":{"values":[{"at":258,"row":84,"label":"8167.80","tone":"blue"},{"at":311,"row":84,"label":"8069.75","tone":"blue"},{"at":365,"row":84,"label":"7971.70","tone":"blue"}]},"mark":{"type":"text","align":"left","baseline":"middle","fontSize":12.5},"encoding":{"text":{"field":"label"}}},
{"data":{"values":[{"at":209,"row":83,"tone":"box"},{"at":226,"row":83,"tone":"box"},{"at":243,"row":83,"tone":"box"}]},"mark":{"type":"point","filled":true,"shape":"square","size":196,"opacity":1}},
{"data":{"values":[{"at":19,"row":59,"icon":"fold","tone":"dim"},{"at":42,"row":59,"icon":"flag","tone":"dim"},{"at":321,"row":58,"icon":"chev","tone":"light"},{"at":187,"row":84,"icon":"chev","tone":"light"},{"at":209,"row":83,"icon":"eye","tone":"dim"},{"at":226,"row":83,"icon":"eye","tone":"dim"},{"at":243,"row":83,"icon":"cross","tone":"dim"}]},
"mark":{"type":"point","filled":false,"size":400,"opacity":1,"strokeWidth":1},
"encoding":{"shape":{"field":"icon","type":"nominal","legend":null,"scale":{"domain":["fold","flag","chev","eye","cross"],"range":["M -0.65 -0.65 H 0.65 V 0.65 H -0.65 Z M -0.4 0 H 0.4","M -0.5 -0.5 H 0.5 L 0.1 0 L 0.5 0.5 H -0.5 Z","M -0.4 -0.2 L 0 0.2 L 0.4 -0.2","M -0.3 0 A 0.3 0.3 0 1 1 0.3 0 A 0.3 0.3 0 1 1 -0.3 0","M -0.35 -0.35 L 0.35 0.35 M 0.35 -0.35 L -0.35 0.35"]}}}}
]}
]},
{"width":1469,"height":180,
"resolve":{"scale":{"x":"independent","y":"independent"}},
"layer":[
{"layer":[
{"data":{"values":[{"low":30,"high":70}]},"mark":{"type":"rect","color":"#9915ff","opacity":0.12},
"encoding":{"y":{"field":"low","type":"quantitative","title":null,"scale":{"domain":[1.7,103.4],"nice":false,"zero":false},
"axis":{"orient":"right","values":[20,40,60,80,100],"format":".2f","grid":true,"gridColor":"#363c4e","domain":true,"domainColor":"#787b86","ticks":true,"tickColor":"#787b86","tickSize":4,"labelColor":"#d1d4dc","labelFont":"Roboto","labelFontSize":12,"labelPadding":5,"title":null}},"y2":{"field":"high"}}},
{"data":{"values":[{"t":"2018-06-10 04:00","level":70},{"t":"2018-10-26 09:00","level":70},{"t":"2018-06-10 04:00","level":30},{"t":"2018-10-26 09:00","level":30}]},"mark":{"type":"line","color":"#c9cbd4","strokeDash":[6,5],"strokeWidth":1},
"encoding":{"detail":{"field":"level"},"x":{"field":"t","type":"temporal","title":null,"scale":{"domain":[{"year":2018,"month":6,"date":10,"hours":2,"minutes":11},{"year":2018,"month":10,"date":26,"hours":10}]}},
"y":{"field":"level","type":"quantitative","title":null,"scale":{"domain":[1.7,103.4],"nice":false,"zero":false}}}},
{"data":{"name":"candles"},"mark":{"type":"line","color":"#e8620f","strokeWidth":1},
"encoding":{"x":{"field":"t","type":"temporal","title":null,"scale":{"domain":[{"year":2018,"month":6,"date":10,"hours":2,"minutes":11},{"year":2018,"month":10,"date":26,"hours":10}]},
"axis":{"values":[{"year":2018,"month":6,"date":18},{"year":2018,"month":7,"date":1},{"year":2018,"month":7,"date":15},{"year":2018,"month":7,"date":23},{"year":2018,"month":8,"date":1},{"year":2018,"month":8,"date":12},{"year":2018,"month":8,"date":20},{"year":2018,"month":9,"date":1},{"year":2018,"month":9,"date":9},{"year":2018,"month":9,"date":23},{"year":2018,"month":10,"date":1},{"year":2018,"month":10,"date":14},{"year":2018,"month":10,"date":22}],"labelExpr":"date(datum.value)==1 ? timeFormat(datum.value,'%b') : timeFormat(datum.value,'%-d')","grid":true,"gridColor":"#363c4e","domain":false,"ticks":true,"tickColor":"#787b86","tickSize":4,"labelColor":"#d1d4dc","labelFont":"Roboto","labelFontSize":12,"labelFontWeight":"bold","labelPadding":6,"labelOverlap":false,"title":null}},
"y":{"field":"r","type":"quantitative","title":null,"scale":{"domain":[1.7,103.4],"nice":false,"zero":false}}}}
]},
{"encoding":{
"x":{"field":"at","type":"quantitative","scale":{"domain":[0,1469],"nice":false,"zero":false},"axis":null},
"y":{"field":"row","type":"quantitative","scale":{"domain":[833,653],"nice":false,"zero":false},"axis":null},
"color":{"field":"tone","type":"nominal","scale":{"domain":["light","dim","orange","box","button","edge","glyph"],"range":["#d1d4dc","#787b86","#f57c00","#363c4e","#222736","#787b86","#a9b4c0"]},"legend":null}},
"layer":[
{"data":{"values":[{"at":13,"row":671,"label":"RSI (14, close)","tone":"light"}]},"mark":{"type":"text","align":"left","baseline":"middle","font":"Noto Sans","fontSize":12.5},"encoding":{"text":{"field":"label"}}},
{"data":{"values":[{"at":175,"row":671,"label":"65.13","tone":"orange"}]},"mark":{"type":"text","align":"left","baseline":"middle","fontSize":13},"encoding":{"text":{"field":"label"}}},
{"data":{"values":[{"at":126,"row":670,"tone":"box"},{"at":143,"row":670,"tone":"box"},{"at":160,"row":670,"tone":"box"}]},"mark":{"type":"point","filled":true,"shape":"square","size":196,"opacity":1}},
{"data":{"values":[{"at":682,"row":813,"tone":"button"},{"at":718,"row":813,"tone":"button"},{"at":768,"row":813,"tone":"button"},{"at":804,"row":813,"tone":"button"},{"at":854,"row":813,"tone":"button"}]},"mark":{"type":"point","filled":true,"shape":"circle","size":706,"opacity":1}},
{"data":{"values":[{"at":104,"row":671,"icon":"chev","tone":"light"},{"at":126,"row":670,"icon":"eye","tone":"dim"},{"at":143,"row":670,"icon":"eye","tone":"dim"},{"at":160,"row":670,"icon":"cross","tone":"dim"},{"at":682,"row":813,"icon":"minus","tone":"glyph"},{"at":718,"row":813,"icon":"plus","tone":"glyph"},{"at":768,"row":813,"icon":"left","tone":"glyph"},{"at":804,"row":813,"icon":"right","tone":"glyph"},{"at":854,"row":813,"icon":"reset","tone":"glyph"}]},
"mark":{"type":"point","filled":false,"size":400,"opacity":1,"strokeWidth":1.4},
"encoding":{"shape":{"field":"icon","type":"nominal","legend":null,"scale":{"domain":["chev","eye","cross","minus","plus","left","right","reset"],"range":["M -0.4 -0.2 L 0 0.2 L 0.4 -0.2","M -0.3 0 A 0.3 0.3 0 1 1 0.3 0 A 0.3 0.3 0 1 1 -0.3 0","M -0.35 -0.35 L 0.35 0.35 M 0.35 -0.35 L -0.35 0.35","M -0.55 0 H 0.55","M -0.55 0 H 0.55 M 0 -0.55 V 0.55","M 0.25 -0.6 L -0.3 0 L 0.25 0.6","M -0.25 -0.6 L 0.3 0 L -0.25 0.6","M -0.55 0 A 0.6 0.6 0 1 0 -0.1 -0.6 M -0.1 -0.9 V -0.35 H 0.2"]}}}},
{"data":{"values":[{"at":1,"to":1538,"row":653.5,"tone":"edge"}]},"mark":{"type":"rule","strokeWidth":1},"encoding":{"x2":{"field":"to"}}}
]}
]},
{"width":1538,"height":69,
"encoding":{
"x":{"field":"at","type":"quantitative","scale":{"domain":[0,1538],"nice":false,"zero":false},"axis":null},
"y":{"field":"row","type":"quantitative","scale":{"domain":[902,833],"nice":false,"zero":false},"axis":null},
"color":{"field":"tone","type":"nominal","scale":{"domain":["dim","tf","link","line","edge","rim"],"range":["#787b86","#4f5d7a","#1e6fd9","#363c4e","#787b86","#2a2e39"]},"legend":null}},
"layer":[
{"data":{"values":[{"at":0,"to":1538,"row":898,"end":902,"tone":"rim"}]},"mark":{"type":"rect"},"encoding":{"x2":{"field":"to"},"y2":{"field":"end"}}},
{"data":{"values":[{"at":1,"to":1538,"row":833.5,"tone":"edge"},{"at":1,"to":1538,"row":860.5,"tone":"line"}]},"mark":{"type":"rule","strokeWidth":1},"encoding":{"x2":{"field":"to"}}},
{"data":{"values":[{"at":1469.5,"row":833,"end":860,"tone":"edge"},{"at":301.5,"row":869,"end":891,"tone":"line"},{"at":1418.5,"row":869,"end":891,"tone":"line"}]},"mark":{"type":"rule","strokeWidth":1},"encoding":{"y2":{"field":"end"}}},
{"data":{"values":[{"at":18,"row":880.5,"label":"1D","tone":"tf"},{"at":47,"row":880.5,"label":"5D","tone":"tf"},{"at":78,"row":880.5,"label":"1M","tone":"tf"},{"at":109,"row":880.5,"label":"3M","tone":"tf"},{"at":140,"row":880.5,"label":"6M","tone":"tf"},{"at":171,"row":880.5,"label":"YTD","tone":"tf"},{"at":210,"row":880.5,"label":"1Y","tone":"tf"},{"at":239,"row":880.5,"label":"5Y","tone":"tf"},{"at":268,"row":880.5,"label":"All","tone":"tf"},{"at":317,"row":880.5,"label":"Go to...","tone":"tf"},{"at":1295,"row":880.5,"label":"00:28:06 (UTC-4)","tone":"tf"},{"at":1436,"row":880.5,"label":"%","tone":"dim"},{"at":1464,"row":880.5,"label":"log","tone":"link"},{"at":1496,"row":880.5,"label":"auto","tone":"link"}]},
"mark":{"type":"text","align":"left","baseline":"middle","fontSize":14},"encoding":{"text":{"field":"label"}}},
{"data":{"values":[{"at":1501,"row":848,"icon":"sun","tone":"dim"}]},
"mark":{"type":"point","filled":false,"size":400,"opacity":1,"strokeWidth":1},
"encoding":{"shape":{"field":"icon","type":"nominal","legend":null,"scale":{"domain":["sun"],"range":["M -0.5 0 A 0.5 0.5 0 1 1 0.5 0 A 0.5 0.5 0 1 1 -0.5 0 M 0 -0.75 V -0.5 M 0 0.75 V 0.5 M -0.75 0 H -0.5 M 0.75 0 H 0.5"]}}}}
]}
]
}
